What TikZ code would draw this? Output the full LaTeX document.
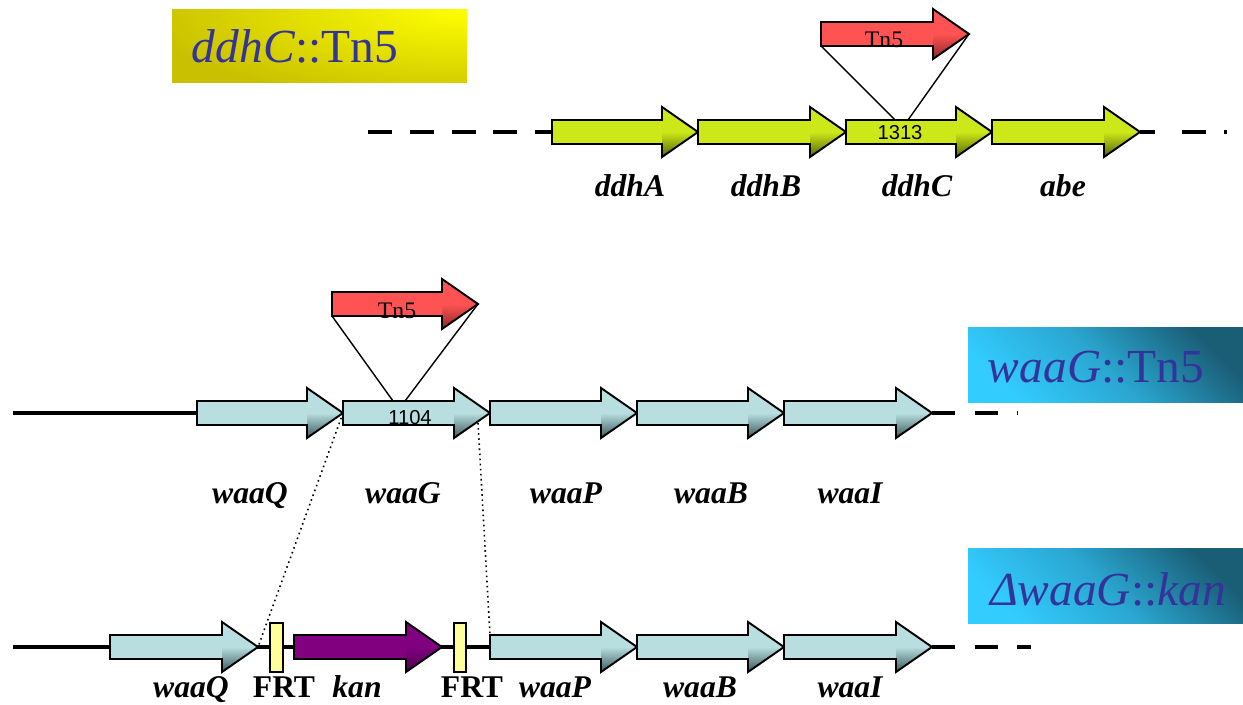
\documentclass[tikz,border=0pt]{standalone}
\usepackage{fontspec}
\setmainfont{Liberation Serif}
\newfontfamily\sansf{Liberation Sans}
\definecolor{ddhbase}{RGB}{204,232,24}
\definecolor{ddhdark}{RGB}{88,100,8}
\definecolor{waabase}{RGB}{184,222,224}
\definecolor{waadark}{RGB}{58,88,90}
\definecolor{tnbase}{RGB}{255,82,82}
\definecolor{tndark}{RGB}{140,40,40}
\definecolor{kanbase}{RGB}{128,0,128}
\definecolor{kandark}{RGB}{80,0,80}
\definecolor{frtfill}{RGB}{255,255,153}
\definecolor{titleblue}{RGB}{51,51,153}
\definecolor{olivey}{RGB}{200,192,0}
\definecolor{brighty}{RGB}{255,255,0}
\definecolor{darkteal}{RGB}{26,94,118}
\definecolor{cyanb}{RGB}{51,204,255}
% #1 name, #2 x start, #3 x tip, #4 y centre, #5 base colour, #6 dark colour
\newcommand\GeneArrow[6]{%
  \coordinate (#1-s) at (#2,#4);
  \coordinate (#1-st) at (#2,#4-12);
  \coordinate (#1-sb) at (#2,#4+12);
  \coordinate (#1-t) at (#3,#4);
  \fill[#5] (#2,#4-12) -- (#3-36,#4-12) -- (#3-36,#4-25) -- (#3,#4) -- (#3-36,#4+25) -- (#3-36,#4+12) -- (#2,#4+12) -- cycle;
  \shade[top color=#5, bottom color=#6, middle color=#5] (#3-36,#4-25) -- (#3,#4) -- (#3-36,#4+25) -- cycle;
  \draw[genebd] (#2,#4-12) -- (#3-36,#4-12) -- (#3-36,#4-25) -- (#3,#4) -- (#3-36,#4+25) -- (#3-36,#4+12) -- (#2,#4+12) -- cycle;
}
\begin{document}
\begin{tikzpicture}[x=0.02cm,y=-0.02cm,
  genebd/.style={draw=black, line width=1.1pt, line join=miter},
  dna/.style={line width=2.8pt, line cap=butt},
  lab/.style={font=\fontsize{18}{18}\selectfont\bfseries\itshape, anchor=base, inner sep=0pt},
  labr/.style={font=\fontsize{18}{18}\selectfont\bfseries, anchor=base, inner sep=0pt},
  numlab/.style={font=\sansf\fontsize{11.5}{11.5}\selectfont, inner sep=0pt},
  tnlab/.style={font=\fontsize{13.5}{13.5}\selectfont, inner sep=0pt},
  titlelab/.style={font=\fontsize{27}{27}\selectfont, text=titleblue, anchor=base, inner sep=0pt},
  inslink/.style={draw=black, line width=0.8pt},
  dotlink/.style={draw=black, line width=0.9pt, dotted},
  frtbox/.style={draw=black, line width=1pt, fill=frtfill}]
\useasboundingbox (0,0) rectangle (1243,705);

% ---------- title boxes ----------
\begin{scope}
  \clip (172,10) rectangle (467,83);
  \fill[olivey] (172,10) rectangle (467,83);
  \shade[inner color=brighty, outer color=olivey] (467,10) ellipse [x radius=330, y radius=95];
\end{scope}
\node[titlelab] (t1) at (295,63) {\textit{ddhC}::Tn5};
\shade[top color=darkteal, bottom color=cyanb, middle color={darkteal!35!cyanb}, shading angle=-45] (968,328) rectangle (1243,403);
\node[titlelab] (t2) at (1096,383) {\textit{waaG}::Tn5};
\shade[top color=darkteal, bottom color=cyanb, middle color={darkteal!35!cyanb}, shading angle=-45] (968,548) rectangle (1243,623);
\node[titlelab] (t3) at (1108,605) {\textit{ΔwaaG}::\textit{kan}};

% ---------- top row: ddh ----------
\draw[dna, dash pattern=on 13.6pt off 10.2pt] (368,132) -- (552,132);
\draw[dna, dash pattern=on 8.5pt off 15.3pt on 13.6pt off 10.2pt] (1140,132) -- (1227,132);
\GeneArrow{ddhA}{552}{698}{132}{ddhbase}{ddhdark}
\GeneArrow{ddhB}{698}{846}{132}{ddhbase}{ddhdark}
\GeneArrow{ddhC}{846}{992}{132}{ddhbase}{ddhdark}
\GeneArrow{abe}{992}{1140}{132}{ddhbase}{ddhdark}
\node[numlab] (n1313) at (900,133) {1313};
\GeneArrow{tnA}{821}{969}{34}{tnbase}{tndark}
\node[tnlab] (tnAl) at (884,40) {Tn5};
\coordinate (insA1) at (895,120);
\coordinate (insA2) at (908,120);
\draw[inslink] (tnA-sb) -- (insA1);
\draw[inslink] (tnA-t) -- (insA2);
\node[lab] (lddhA) at (630,197) {ddhA};
\node[lab] (lddhB) at (766,197) {ddhB};
\node[lab] (lddhC) at (917,197) {ddhC};
\node[lab] (labe) at (1063,197) {abe};

% ---------- middle row: waaG::Tn5 ----------
\draw[dna] (13,413) -- (197,413);
\draw[dna, dash pattern=on 13pt off 11.3pt] (932,413) -- (1018,413);
\GeneArrow{waaQ}{197}{343}{413}{waabase}{waadark}
\GeneArrow{waaG}{343}{490}{413}{waabase}{waadark}
\GeneArrow{waaP}{490}{637}{413}{waabase}{waadark}
\GeneArrow{waaB}{637}{784}{413}{waabase}{waadark}
\GeneArrow{waaI}{784}{932}{413}{waabase}{waadark}
\node[numlab] (n1104) at (410,418) {1104};
\GeneArrow{tnB}{332}{478}{304}{tnbase}{tndark}
\node[tnlab] (tnBl) at (397,311) {Tn5};
\coordinate (insB1) at (393,401);
\coordinate (insB2) at (405,401);
\draw[inslink] (tnB-sb) -- (insB1);
\draw[inslink] (tnB-t) -- (insB2);
\node[lab] (lwaaQ) at (250,503) {waaQ};
\node[lab] (lwaaG) at (403,503) {waaG};
\node[lab] (lwaaP) at (566,503) {waaP};
\node[lab] (lwaaB) at (711,503) {waaB};
\node[lab] (lwaaI) at (850,503) {waaI};

% ---------- bottom row: waaG::kan ----------
\draw[dna] (13,647) -- (490,647);
\draw[dna, dash pattern=on 13pt off 11.3pt] (932,647) -- (1031,647);
\GeneArrow{bQ}{110}{258}{647}{waabase}{waadark}
\draw[frtbox] (270,623) rectangle (283,672);
\GeneArrow{kan}{294}{442}{647}{kanbase}{kandark}
\draw[frtbox] (454,623) rectangle (466,672);
\GeneArrow{bP}{490}{637}{647}{waabase}{waadark}
\GeneArrow{bB}{637}{784}{647}{waabase}{waadark}
\GeneArrow{bI}{784}{932}{647}{waabase}{waadark}
\node[lab] (lbQ) at (191,697) {waaQ};
\node[labr] (lfrt1) at (284,697) {FRT};
\node[lab] (lkan) at (357,697) {kan};
\node[labr] (lfrt2) at (472,697) {FRT};
\node[lab] (lbP) at (555,697) {waaP};
\node[lab] (lbB) at (700,697) {waaB};
\node[lab] (lbI) at (850,697) {waaI};

% ---------- dotted correspondence lines ----------
\coordinate (gR) at (478,423);
\draw[dotlink] (waaQ-t) -- (bQ-t);
\draw[dotlink] (gR) -- (bP-st);
\end{tikzpicture}
\end{document}
